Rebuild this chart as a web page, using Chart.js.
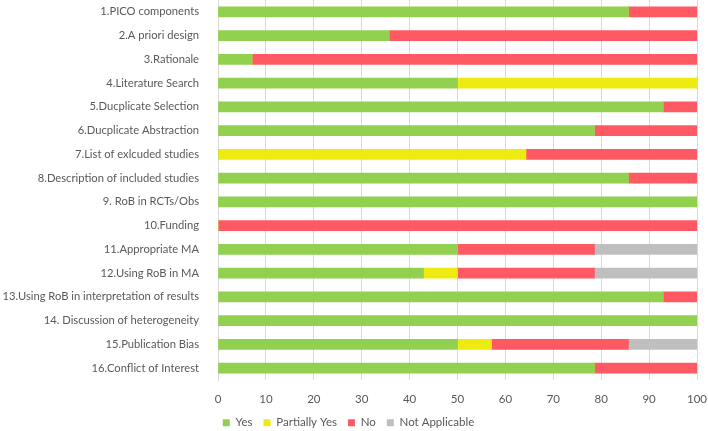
<!DOCTYPE html>
<html>
<head>
<meta charset="utf-8">
<script src="https://cdn.jsdelivr.net/npm/chart.js@4"></script>
<style>
  html, body { margin: 0; padding: 0; background: #fff; }
  #wrap { width: 708px; height: 431px; }
</style>
</head>
<body>
<div id="wrap"><canvas id="amstarChart"></canvas></div>
<script>
// AMSTAR items, percent of reviews per rating
const items = [
    '1.PICO components', '2.A priori design', '3.Rationale', '4.Literature Search',
    '5.Ducplicate Selection', '6.Ducplicate Abstraction', '7.List of exlcuded studies',
    '8.Description of included studies', '9. RoB in RCTs/Obs', '10.Funding',
    '11.Appropriate MA', '12.Using RoB in MA', '13.Using RoB in interpretation of results',
    '14. Discussion of heterogeneity', '15.Publication Bias', '16.Conflict of Interest'
];
const yes       = [85.7, 35.7, 7.1, 50, 92.9, 78.6, 0, 85.7, 100, 0, 50, 42.9, 92.9, 100, 50, 78.6];
const partially = [0, 0, 0, 50, 0, 0, 64.3, 0, 0, 0, 0, 7.1, 0, 0, 7.1, 0];
const no        = [14.3, 64.3, 92.9, 0, 7.1, 21.4, 35.7, 14.3, 0, 100, 28.6, 28.6, 7.1, 0, 28.6, 21.4];
const notApp    = [0, 0, 0, 0, 0, 0, 0, 0, 0, 0, 21.4, 21.4, 0, 0, 14.3, 0];
const xTicks    = [0, 10, 20, 30, 40, 50, 60, 70, 80, 90, 100];

const textColor = '#595959';
const labelFont = { family: 'Lato', size: 11.2 };
const tickFont = { family: 'Lato', size: 11.5 };

const ds = (label, data, color) => ({
    label, data, backgroundColor: color, borderWidth: 0, barThickness: 10
});

new Chart(document.getElementById('amstarChart'), {
    type: 'bar',
    data: {
        labels: items,
        datasets: [
            ds('Yes', yes, '#92D050'),
            ds('Partially Yes', partially, '#EEEB12'),
            ds('No', no, '#FF5A64'),
            ds('Not Applicable', notApp, '#BFBFBF')
        ]
    },
    options: {
        indexAxis: 'y',
        responsive: true,
        maintainAspectRatio: false,
        animation: false,
        layout: { padding: { top: 0, right: 11, left: 0, bottom: 0 } },
        plugins: {
            tooltip: { enabled: false },
            legend: {
                position: 'bottom',
                maxHeight: 25,
                labels: {
                    color: textColor, font: tickFont,
                    boxWidth: 7, boxHeight: 7, padding: 11
                }
            }
        },
        scales: {
            x: {
                stacked: true,
                min: 0, max: 100,
                afterBuildTicks: axis => { axis.ticks = xTicks.map(v => ({ value: v })); },
                // fixed axis box so the legend sits close under the tick labels
                afterFit: axis => { axis.paddingLeft = 0; axis.paddingRight = 0; axis.height = 26; },
                grid: { color: '#D9D9D9', drawTicks: false },
                border: { display: false },
                ticks: { color: textColor, font: tickFont, padding: 12 }
            },
            y: {
                stacked: true,
                afterFit: axis => { axis.width = 218; axis.paddingTop = 0; axis.paddingBottom = 0; },
                grid: { display: false },
                border: { display: true, color: '#D9D9D9' },
                ticks: { color: textColor, font: labelFont, padding: 11 }
            }
        }
    }
});
</script>
</body>
</html>
